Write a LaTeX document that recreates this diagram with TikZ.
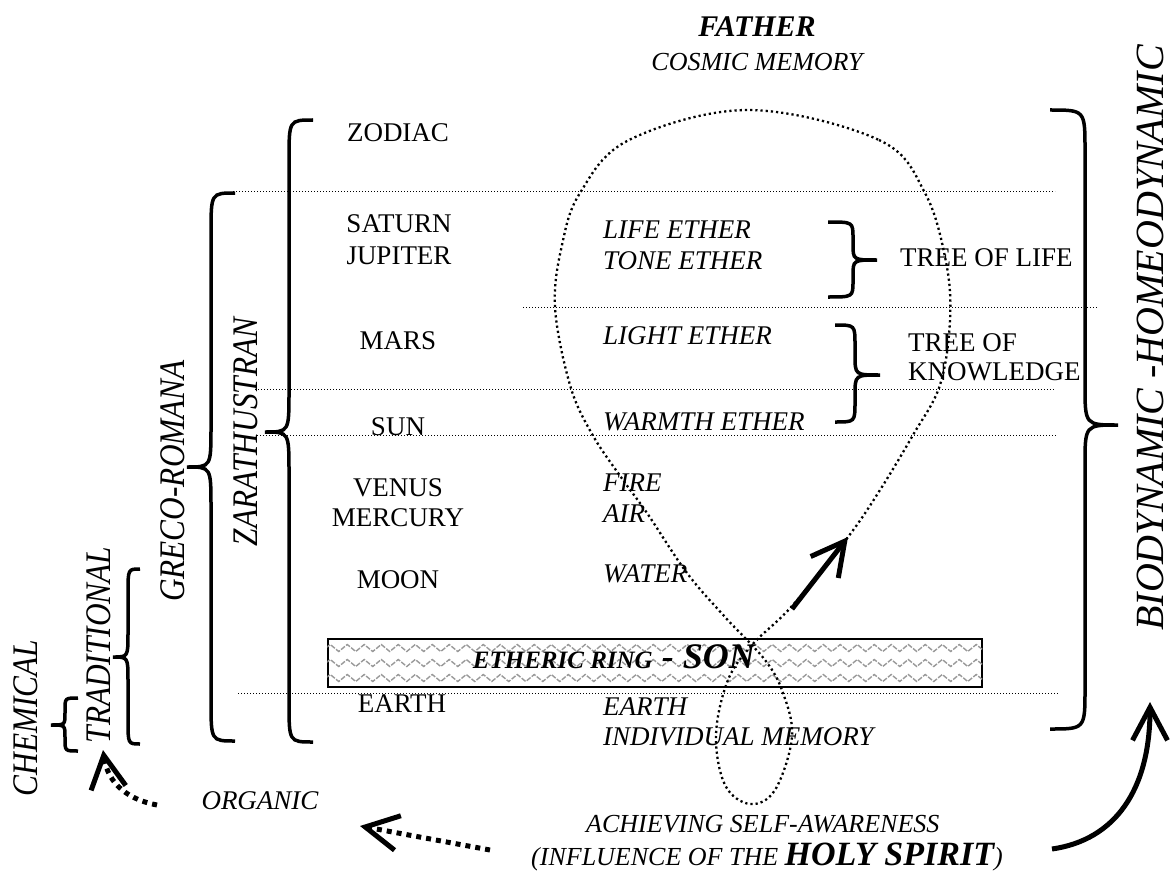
\documentclass[tikz,border=0pt]{standalone}
\usepackage{fontspec}
\setmainfont{Liberation Serif}
\usepackage{graphicx}
\usetikzlibrary{arrows.meta,decorations.pathmorphing}
\newcommand\fsz[1]{\fontsize{#1}{#1}\selectfont}
% #1 end x, #2 vertical x, #3 tip x, #4 top y, #5 tip y, #6 bottom y, #7 radius
\newcommand\bracepath[7]{%
  (#1,#4) .. controls (#2,#4) .. (#2,#4+#7) -- (#2,#5-#7)
  .. controls (#2,#5) .. (#3,#5) .. controls (#2,#5) .. (#2,#5+#7)
  -- (#2,#6-#7) .. controls (#2,#6) .. (#1,#6)}
\tikzset{
  lab/.style={inner sep=0pt, font=\fsz{27}},
  ilab/.style={inner sep=0pt, anchor=west, font=\fsz{27}\itshape},
  vlab/.style={inner sep=0pt, rotate=90, font=\fsz{36}\itshape},
  sepline/.style={line width=1pt, dash pattern=on 1pt off 2pt},
  bracestroke/.style={line width=3.5pt},
  loopline/.style={line width=2.3pt, dash pattern=on 2.2pt off 3pt},
  boldarrow/.style={line width=5pt, -{Straight Barb[length=33pt,width=35pt]}},
  dotarrow/.style={line width=5pt, dash pattern=on 5pt off 5pt, -{Straight Barb[length=33pt,width=35pt]}},
  wave/.style={draw=black!40, line width=1.4pt, dash pattern=on 5pt off 1.5pt, decorate, decoration={zigzag, segment length=17pt, amplitude=3.5pt}},
}
\begin{document}
\begin{tikzpicture}[x=1pt, y=-1pt]
\useasboundingbox (0,0) rectangle (1170,872);

% separating dotted lines
\coordinate (s1a) at (233,191); \coordinate (s1b) at (1055,191);
\coordinate (s2a) at (523,307); \coordinate (s2b) at (1097,307);
\coordinate (s3a) at (255,389); \coordinate (s3b) at (1055,389);
\coordinate (s4a) at (257,435); \coordinate (s4b) at (1057,435);
\coordinate (s5a) at (238,693); \coordinate (s5b) at (1058,693);
\draw[sepline] (s1a) -- (s1b);
\draw[sepline] (s2a) -- (s2b);
\draw[sepline] (s3a) -- (s3b);
\draw[sepline] (s4a) -- (s4b);
\draw[sepline] (s5a) -- (s5b);

% braces
\draw[bracestroke] \bracepath{313}{289}{265}{120}{432}{742}{40};
\draw[bracestroke] \bracepath{235}{211}{187}{193}{467}{741}{40};
\draw[bracestroke] \bracepath{140}{128}{113}{569}{657}{744}{24};
\draw[bracestroke] \bracepath{78}{65}{51}{698}{725}{751}{12};
\draw[bracestroke] \bracepath{1050}{1085}{1118}{110}{425}{729}{40};
\draw[bracestroke] \bracepath{828}{853}{877}{222}{260}{297}{16};
\draw[bracestroke] \bracepath{835}{855}{880}{325}{375}{422}{20};

% titles
\node[inner sep=0pt, font=\fsz{30}\bfseries\itshape] (father) at (757,27) {FATHER};
\node[inner sep=0pt, font=\fsz{26}\itshape] (cosmic) at (757,62) {COSMIC MEMORY};

% planets
\node[lab] (zodiac) at (398,133) {ZODIAC};
\node[lab] (saturn) at (399,224) {SATURN};
\node[lab] (jupiter) at (399,256) {JUPITER};
\node[lab] (mars) at (398,341) {MARS};
\node[lab] (sun) at (398,427) {SUN};
\node[lab] (venus) at (398,488) {VENUS};
\node[lab] (mercury) at (398,518) {MERCURY};
\node[lab] (moon) at (398,580) {MOON};
\node[lab] (earth) at (402,704) {EARTH};

% ethers and elements
\node[ilab] (life) at (603,230) {LIFE ETHER};
\node[ilab] (tone) at (603,261) {TONE ETHER};
\node[ilab] (light) at (603,336) {LIGHT ETHER};
\node[ilab] (warmth) at (603,422) {WARMTH ETHER};
\node[ilab] (fire) at (603,483) {FIRE};
\node[ilab] (air) at (603,514) {AIR};
\node[ilab] (water) at (603,574) {WATER};
\node[ilab] (earthel) at (603,707) {EARTH};
\node[ilab] (indiv) at (603,737) {INDIVIDUAL MEMORY};

% trees
\node[lab, anchor=west] (treelife) at (900,258) {TREE OF LIFE};
\node[lab, anchor=west] (treeof) at (908,343) {TREE OF};
\node[lab, anchor=west] (knowledge) at (908,372) {KNOWLEDGE};

% vertical labels
\node[vlab] (chemical) at (26,718) {\scalebox{0.87}[1]{CHEMICAL}};
\node[vlab] (traditional) at (99,645) {\scalebox{0.87}[1]{TRADITIONAL}};
\node[vlab] (greco) at (173,481) {\scalebox{0.87}[1]{GRECO-ROMANA}};
\node[vlab] (zara) at (246,432) {\scalebox{0.87}[1]{ZARATHUSTRAN}};
\node[vlab, font=\fsz{40}\itshape] (bio) at (1150,338) {BIODYNAMIC -HOMEODYNAMIC};

% etheric ring
\node[draw, line width=1.5pt, fill=white, minimum width=654pt, minimum height=48pt, inner sep=0pt] (ring) at (655,663) {};
\begin{scope}
  \clip (ring.south west) rectangle (ring.north east);
  \foreach \yy in {648,663,678} {
    \draw[wave] (326,\yy) -- (990,\yy);
  }
\end{scope}
\node[inner sep=0pt, anchor=base east, font=\fsz{25}\bfseries\itshape] (son) at (755,668) {ETHERIC RING{\fsz{36} - SON}};

% bottom texts
\node[inner sep=0pt, font=\fsz{27}\itshape] (organic) at (260,801) {ORGANIC};
\node[inner sep=0pt, anchor=base west, font=\fsz{26}\itshape] (achieve) at (586,832) {ACHIEVING SELF-AWARENESS};
\node[inner sep=0pt, anchor=base west, font=\fsz{26}\itshape] (influence) at (531,865) {(INFLUENCE OF THE {\fsz{34}\bfseries HOLY SPIRIT})};

% the dotted loop
\draw[loopline] plot[smooth cycle, tension=0.6] coordinates {
  (748,110) (879,140) (925,193) (946,262) (950,320) (940,385) (913,435)
  (880,490) (848,537) (792,606) (752,645) (728,680) (716,735) (725,785)
  (750,804) (775,790) (792,737) (783,693) (765,660) (725,617) (687,573)
  (647,513) (623,480) (592,434) (570,385) (555,307) (562,245) (580,193)
  (629,140)};

% arrows
\coordinate (a1s) at (792,609); \coordinate (a1e) at (848,537);
\draw[boldarrow] (a1s) -- (a1e);
\coordinate (a2s) at (1052,849); \coordinate (a2e) at (1150,702);
\draw[boldarrow] (a2s) .. controls (1115,840) and (1150,790) .. (a2e);
\coordinate (a3s) at (157,805); \coordinate (a3e) at (103,750);
\draw[dotarrow] (a3s) .. controls (130,800) and (108,785) .. (a3e);
\coordinate (a4s) at (490,850); \coordinate (a4e) at (360,826);
\draw[dotarrow] (a4s) -- (a4e);
\end{tikzpicture}
\end{document}
